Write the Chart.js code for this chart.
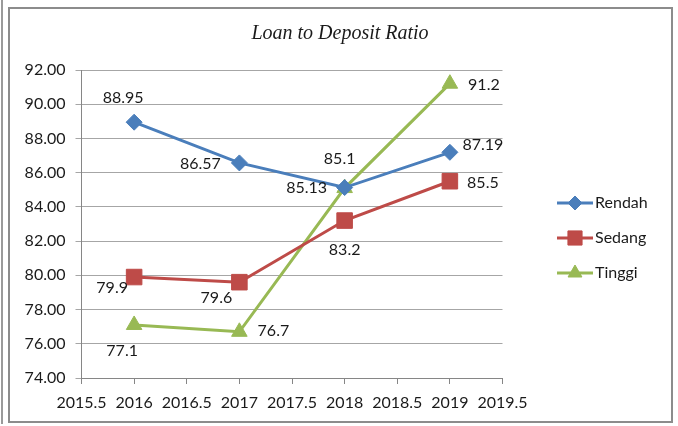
<!DOCTYPE html>
<html>
<head>
<meta charset="utf-8">
<script src="https://cdn.jsdelivr.net/npm/chart.js@4/dist/chart.umd.min.js"></script>
<style>
  html, body { margin: 0; padding: 0; background: #fff; }
  #wrap { position: relative; width: 678px; height: 426px; overflow: hidden; }
  #frame { position: absolute; left: 8px; top: 7px; width: 661px; height: 412px; border: 2px solid #8c8c8c; }
  #edge { position: absolute; left: 1px; top: 0; width: 0; height: 424px; border-left: 2px solid #9a9a9a; }
  canvas { position: absolute; left: 0; top: 0; }
</style>
</head>
<body>
<div id="wrap">
  <div id="edge"></div>
  <div id="frame"></div>
  <canvas id="ldr" width="678" height="426"></canvas>
</div>
<script>
// data
const chartTitle = 'Loan to Deposit Ratio';
const years = [2016, 2017, 2018, 2019];
const rendah = [88.95, 86.57, 85.13, 87.19];
const sedang = [79.9, 79.6, 83.2, 85.5];
const tinggi = [77.1, 76.7, 85.1, 91.2];
const xTickRange = [2015.5, 2019.5, 0.5];
const yTickRange = [74, 92, 2];

const FONT = 'Lato, "Noto Sans", sans-serif';

const toPoints = vals => vals.map((v, i) => ({ x: years[i], y: v }));

// label offsets (px, relative to each marker)
const labelOffsets = {
    Rendah: [[-11, -24], [-39, 1], [-38, 0], [33, -7]],
    Sedang: [[-22, 11], [-23, 16], [0, 29], [33, 2]],
    Tinggi: [[-12, 26], [34, -1], [-5, -29], [34, 1]]
};

// title centred on the whole frame, not only the plot
const frameTitle = {
    id: 'frameTitle',
    afterDraw(chart) {
        const ctx = chart.ctx;
        ctx.save();
        ctx.font = 'italic 20px "Liberation Serif", serif';
        ctx.fillStyle = '#1a1a1a';
        ctx.textAlign = 'center';
        ctx.textBaseline = 'middle';
        ctx.fillText(chartTitle, 340, 34);
        ctx.restore();
    }
};

const dataLabels = {
    id: 'dataLabels',
    afterDatasetsDraw(chart) {
        const ctx = chart.ctx;
        ctx.save();
        ctx.font = '16px ' + FONT;
        ctx.fillStyle = '#1a1a1a';
        ctx.textAlign = 'center';
        ctx.textBaseline = 'middle';
        chart.data.datasets.forEach((ds, di) => {
            const meta = chart.getDatasetMeta(di);
            meta.data.forEach((pt, i) => {
                const off = labelOffsets[ds.label][i];
                ctx.fillText(String(ds.data[i].y), pt.x + off[0], pt.y + off[1]);
            });
        });
        ctx.restore();
    }
};

const sideLegend = {
    id: 'sideLegend',
    afterDraw(chart) {
        const ctx = chart.ctx;
        ctx.save();
        chart.data.datasets.forEach((ds, i) => {
            const y = 203 + i * 35;
            ctx.strokeStyle = ds.borderColor;
            ctx.lineWidth = 3;
            ctx.beginPath();
            ctx.moveTo(557, y);
            ctx.lineTo(593, y);
            ctx.stroke();
            ctx.fillStyle = ds.backgroundColor;
            ctx.strokeStyle = ds.borderColor;
            ctx.lineWidth = 1;
            Chart.helpers.drawPoint(ctx, {
                pointStyle: ds.pointStyle,
                radius: ds.pointRadius - 1,
                borderWidth: 1,
                rotation: 0
            }, 575, y);
            ctx.fillStyle = '#1a1a1a';
            ctx.font = '16px ' + FONT;
            ctx.textAlign = 'left';
            ctx.textBaseline = 'middle';
            ctx.fillText(ds.label, 595, y);
        });
        ctx.restore();
    }
};

const series = (label, vals, color, style, radius) => ({
    label: label,
    data: toPoints(vals),
    borderColor: color,
    backgroundColor: color,
    borderWidth: 3,
    pointStyle: style,
    pointRadius: radius,
    pointHoverRadius: radius,
    pointBorderWidth: 1,
    tension: 0
});

new Chart(document.getElementById('ldr').getContext('2d'), {
    type: 'line',
    data: {
        datasets: [
            series('Rendah', rendah, '#4a7ebb', 'rectRot', 8),
            series('Sedang', sedang, '#be4b48', 'rect', 11),
            series('Tinggi', tinggi, '#98b954', 'triangle', 9)
        ]
    },
    options: {
        responsive: false,
        animation: false,
        events: [],
        layout: { padding: { left: 0, right: 175.5, top: 70, bottom: 0 } },
        plugins: {
            legend: { display: false },
            tooltip: { enabled: false },
            title: { display: false }
        },
        scales: {
            x: {
                type: 'linear',
                min: xTickRange[0],
                max: xTickRange[1],
                afterFit: s => { s.height = 48; },
                ticks: {
                    stepSize: xTickRange[2],
                    color: '#1a1a1a',
                    font: { family: FONT, size: 16 },
                    padding: 9,
                    maxRotation: 0,
                    autoSkip: false,
                    callback: v => String(v)
                },
                grid: { drawOnChartArea: false, drawTicks: true, tickLength: 6, color: '#868686' },
                border: { color: '#868686', width: 1 }
            },
            y: {
                min: yTickRange[0],
                max: yTickRange[1],
                afterFit: s => { s.width = 81.5; },
                ticks: {
                    stepSize: yTickRange[2],
                    color: '#1a1a1a',
                    font: { family: FONT, size: 16 },
                    padding: 10,
                    callback: v => v.toFixed(2)
                },
                grid: { color: '#a6a6a6', tickLength: 6, lineWidth: 1 },
                border: { color: '#868686', width: 1 }
            }
        }
    },
    plugins: [dataLabels, sideLegend, frameTitle]
});
</script>
</body>
</html>
